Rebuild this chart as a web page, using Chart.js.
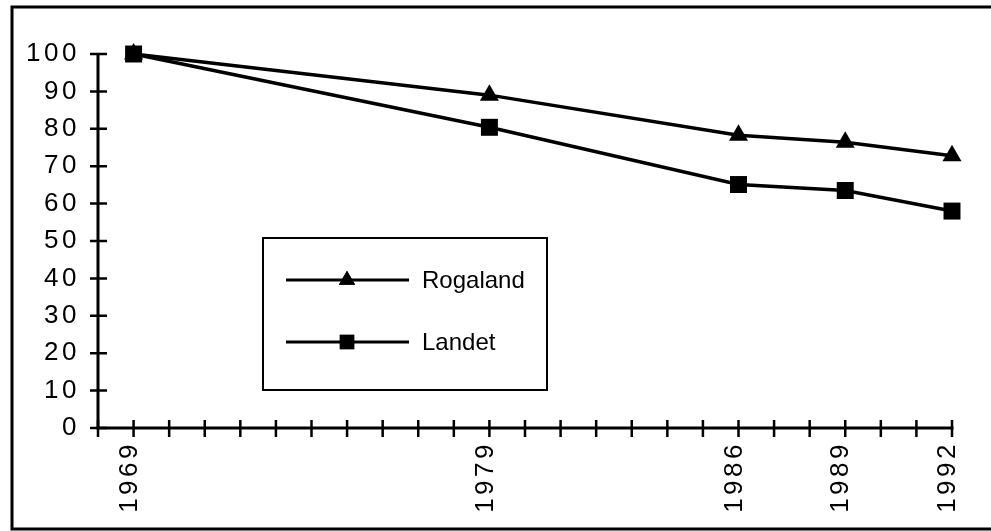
<!DOCTYPE html>
<html>
<head>
<meta charset="utf-8">
<script src="https://cdn.jsdelivr.net/npm/chart.js@4"></script>
<style>
  html, body { margin: 0; padding: 0; background: #fff; }
  #wrap { position: relative; width: 991px; height: 531px; }
</style>
</head>
<body>
<div id="wrap"><canvas id="myChart" width="991" height="531"></canvas></div>
<script>
// chart data
const years = [1969, 1979, 1986, 1989, 1992];
const rogaland = [100, 89, 78.3, 76.4, 72.8];
const landet = [100, 80.4, 65.1, 63.5, 58];
const yTicks = [0, 10, 20, 30, 40, 50, 60, 70, 80, 90, 100];

const spacing = '3.5px';
const tickFont = { family: '"Liberation Sans", Arial, sans-serif', size: 26 };

function toPoints(vals) {
    return years.map((yr, i) => ({ x: yr, y: vals[i] }));
}

// keep the wide digit spacing of the original on every pass
function setSpacing(chart) {
    chart.ctx.letterSpacing = spacing;
}

const framePlugin = {
    id: 'frame',
    beforeUpdate: setSpacing,
    beforeLayout: setSpacing,
    beforeDraw: setSpacing,
    afterDraw(chart) {
        const ctx = chart.ctx;
        const xs = chart.scales.x;
        const ys = chart.scales.y;
        const x0 = xs.left;
        const y0 = ys.bottom;
        ctx.save();
        ctx.letterSpacing = '0px';
        ctx.strokeStyle = '#000';
        ctx.lineCap = 'butt';

        // axes
        ctx.lineWidth = 3;
        ctx.beginPath();
        ctx.moveTo(x0, ys.top - 1);
        ctx.lineTo(x0, y0);
        ctx.lineTo(xs.right + 1.5, y0);
        ctx.stroke();

        // ticks crossing the axes
        ctx.lineWidth = 2.5;
        ctx.beginPath();
        yTicks.forEach(v => {
            const py = ys.getPixelForValue(v);
            ctx.moveTo(x0 - 8, py);
            ctx.lineTo(x0 + 9, py);
        });
        for (let yr = xs.min; yr <= xs.max; yr++) {
            const px = xs.getPixelForValue(yr);
            ctx.moveTo(px, y0 - 8);
            ctx.lineTo(px, y0 + 9);
        }
        ctx.stroke();

        // outer frame
        ctx.lineWidth = 3;
        ctx.beginPath();
        ctx.moveTo(1000, 7);
        ctx.lineTo(12, 7);
        ctx.lineTo(12, 529);
        ctx.lineTo(1000, 529);
        ctx.stroke();

        // legend box inside the plot
        const bx = 263, by = 238, bw = 284, bh = 152;
        ctx.lineWidth = 2;
        ctx.strokeRect(bx, by, bw, bh);
        const rows = [280, 342];
        ctx.font = '24px "Liberation Sans", Arial, sans-serif';
        ctx.textBaseline = 'middle';
        ctx.textAlign = 'left';
        ctx.fillStyle = '#000';
        chart.data.datasets.forEach((ds, i) => {
            const ly = rows[i];
            ctx.lineWidth = 3;
            ctx.beginPath();
            ctx.moveTo(286, ly);
            ctx.lineTo(409, ly);
            ctx.stroke();
            Chart.helpers.drawPoint(ctx, {
                pointStyle: ds.pointStyle,
                radius: ds.pointRadius * 0.85,
                borderWidth: 0,
                rotation: 0
            }, 347, ly);
            ctx.fill();
            ctx.fillText(ds.label, 422, ly + 1);
        });
        ctx.restore();
    }
};

const ctx = document.getElementById('myChart').getContext('2d');
const myChart = new Chart(ctx, {
    type: 'line',
    data: {
        datasets: [{
            label: 'Rogaland',
            data: toPoints(rogaland),
            borderColor: '#000',
            backgroundColor: '#000',
            borderWidth: 3.5,
            pointStyle: 'triangle',
            pointRadius: 11,
            pointBorderWidth: 0,
            tension: 0,
            clip: false
        }, {
            label: 'Landet',
            data: toPoints(landet),
            borderColor: '#000',
            backgroundColor: '#000',
            borderWidth: 3.5,
            pointStyle: 'rect',
            pointRadius: 12,
            pointBorderWidth: 0,
            tension: 0,
            clip: false
        }]
    },
    options: {
        responsive: false,
        animation: false,
        events: [],
        layout: { padding: { left: 0, top: 54, right: 39, bottom: 0 } },
        plugins: {
            legend: { display: false },
            tooltip: { enabled: false }
        },
        scales: {
            x: {
                type: 'linear',
                min: 1968,
                max: 1992,
                border: { display: false },
                grid: { display: false },
                afterFit: (scale) => { scale.height = 103; },
                ticks: {
                    stepSize: 1,
                    autoSkip: false,
                    maxRotation: 90,
                    minRotation: 90,
                    padding: 5,
                    labelOffset: -4,
                    color: '#000',
                    font: tickFont,
                    callback: (v) => years.includes(v) ? String(v) : ''
                }
            },
            y: {
                min: 0,
                max: 100,
                border: { display: false },
                grid: { display: false },
                afterFit: (scale) => { scale.width = 98; },
                ticks: {
                    stepSize: 10,
                    padding: 10,
                    color: '#000',
                    font: tickFont
                }
            }
        }
    },
    plugins: [framePlugin]
});
</script>
</body>
</html>
